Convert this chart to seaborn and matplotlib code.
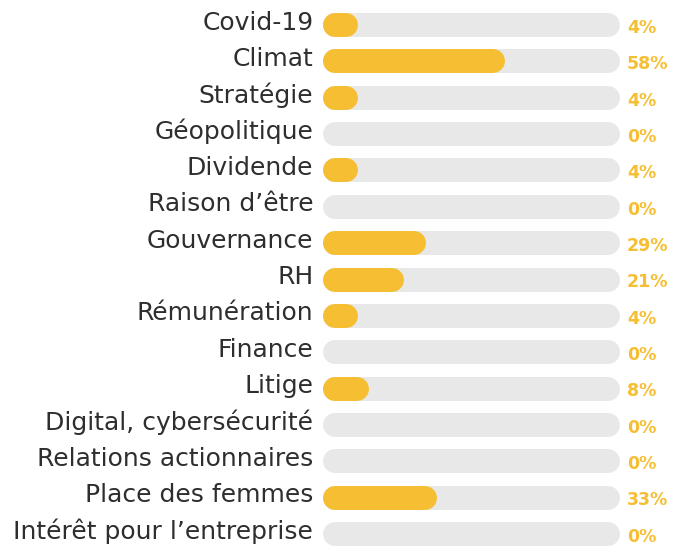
import matplotlib

matplotlib.use("Agg")

import matplotlib.pyplot as plt
import matplotlib.transforms as mtransforms
import pandas as pd
import seaborn as sns

TOPICS = [
    "Covid-19", "Climat", "Stratégie", "Géopolitique", "Dividende",
    "Raison d’être", "Gouvernance", "RH", "Rémunération", "Finance",
    "Litige", "Digital, cybersécurité", "Relations actionnaires",
    "Place des femmes", "Intérêt pour l’entreprise",
]
SHARES = [4, 58, 4, 0, 4, 0, 29, 21, 4, 0, 8, 0, 0, 33, 0]
FULL_SCALE = 100

YELLOW = "#F6BF33"
TRACK_GREY = "#E8E8E8"
LABEL_GREY = "#2E2E2E"

W_PX, H_PX, DPI = 691, 552, 100
BAR_H = 0.66


def pill_bars(ax, patches, color, lw_pt, z):
    # seaborn's square bars become thick lines with round caps
    for p in patches:
        x, y, w, h = p.get_x(), p.get_y(), p.get_width(), p.get_height()
        p.remove()
        if w <= 0:
            continue
        yc = y + h / 2
        ax.plot([x, x + w], [yc, yc], color=color, lw=lw_pt,
                solid_capstyle="round", zorder=z)


def main() -> None:
    df = pd.DataFrame({"topic": TOPICS, "share": SHARES})
    df["track"] = FULL_SCALE

    sns.set_style("white")
    plt.rcParams["font.family"] = ["DejaVu Sans"]

    fig = plt.figure(figsize=(W_PX / DPI, H_PX / DPI), dpi=DPI)
    left, right, top, bottom = 323, 620, 7, 552
    ax = fig.add_axes([left / W_PX, 1 - bottom / H_PX,
                       (right - left) / W_PX, (bottom - top) / H_PX])

    sns.barplot(data=df, x="track", y="topic", color=TRACK_GREY, width=BAR_H,
                saturation=1, errorbar=None, ax=ax)
    track_patches = list(ax.patches)
    sns.barplot(data=df, x="share", y="topic", color=YELLOW, width=BAR_H,
                saturation=1, errorbar=None, ax=ax)
    fill_patches = [p for p in ax.patches if p not in track_patches]

    ax_w, ax_h = right - left, bottom - top
    cap_px = BAR_H / 2 * ax_h / len(TOPICS)
    px_per_x = (ax_w - 2 * cap_px) / FULL_SCALE
    radius = cap_px / px_per_x
    ax.set_xlim(-radius, FULL_SCALE + radius)
    ax.set_ylim(len(TOPICS) - 0.5, -0.5)

    lw_pt = 2 * cap_px * 72 / DPI
    pill_bars(ax, track_patches, TRACK_GREY, lw_pt, 1)
    pill_bars(ax, fill_patches, YELLOW, lw_pt, 2)

    for i, v in enumerate(SHARES):
        ax.annotate(f"{v}%", xy=(FULL_SCALE + radius, i), xytext=(5, -2),
                    textcoords="offset points", ha="left", va="center",
                    fontsize=12.5, fontweight="bold", color=YELLOW,
                    annotation_clip=False)

    sns.despine(ax=ax, left=True, bottom=True)
    ax.set_xticks([])
    ax.set_xlabel("")
    ax.set_ylabel("")
    ax.tick_params(axis="y", length=0, pad=7, labelsize=18, labelcolor=LABEL_GREY)
    lift = mtransforms.ScaledTranslation(0, 5 / DPI, fig.dpi_scale_trans)
    for lbl in ax.get_yticklabels():
        lbl.set_transform(lbl.get_transform() + lift)

    fig.savefig("out.png", dpi=DPI)
    plt.close(fig)


if __name__ == "__main__":
    main()
